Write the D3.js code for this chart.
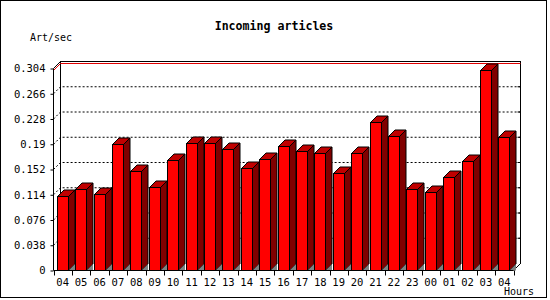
<!DOCTYPE html>
<html><head><meta charset="utf-8">
<script src="https://cdn.jsdelivr.net/npm/d3@7"></script>
<style>
html,body{margin:0;padding:0;background:#fff;}
svg{display:block;}
text{font-family:"DejaVu Sans Mono","Liberation Mono",monospace;}
</style></head>
<body><div id="chart"></div>
<script>
const hours = ["04","05","06","07","08","09","10","11","12","13","14","15","16","17","18","19","20","21","22","23","00","01","02","03","04"];
const values = [0.112,0.123,0.115,0.191,0.150,0.125,0.167,0.192,0.192,0.183,0.155,0.168,0.188,0.180,0.177,0.147,0.177,0.224,0.202,0.123,0.118,0.141,0.165,0.301,0.201];
const yTicks = [0,0.038,0.076,0.114,0.152,0.19,0.228,0.266,0.304];
const yTickLabels = ["0","0.038","0.076","0.114","0.152","0.19","0.228","0.266","0.304"];
const title = "Incoming articles";
const yTitle = "Art/sec";
const xTitle = "Hours";

const W = 550, H = 300;
const D = 7;      // wall depth
const bd = 6.5;   // bar depth
const svg = d3.select("#chart").append("svg").attr("width", W).attr("height", H);

const x = d3.scaleBand().domain(d3.range(hours.length)).range([53.5, 513.5]).padding(0);
const y = d3.scaleLinear().domain([0, 0.304]).range([270.5, 68.5]);
const yMin = y(0), yMax = y(0.304);
const xL = 53.5, xR = 513.5;

// outer border
svg.append("rect").attr("x",0.5).attr("y",0.5).attr("width",546).attr("height",297)
  .attr("fill","#fff").attr("stroke","#000");

// back wall
const g = svg.append("g");
g.append("path").attr("d", `M${xL+D},${yMin-D} L${xL+D},${yMax-D} L${xR+D},${yMax-D} L${xR+D},${yMin-D}`)
  .attr("fill","none").attr("stroke","#000").attr("shape-rendering","crispEdges");

// gridlines
yTicks.filter(t => t > 0 && t < 0.304).forEach(t => {
  const yy = y(t);
  g.append("path").attr("d", `M${xL},${yy} L${xL+D},${yy-D} L${xR+D},${yy-D}`)
    .attr("fill","none").attr("stroke","#000").attr("stroke-dasharray","2,2");
  g.append("line").attr("x1", xR+D-3).attr("x2", xR+D).attr("y1", yy-D).attr("y2", yy-D).attr("stroke","#000");
});

// max line
const vmax = d3.max(values);
g.append("path").attr("d", `M${xL},${Math.round(y(vmax))+0.5} L${xL+D},${Math.round(y(vmax))+0.5-D} L${xR+D},${Math.round(y(vmax))+0.5-D}`)
  .attr("fill","none").attr("stroke","#e00000");

// top-left diagonal and floor right diagonal
g.append("line").attr("x1",xL).attr("y1",yMax).attr("x2",xL+D).attr("y2",yMax-D).attr("stroke","#000");
g.append("line").attr("x1",xR).attr("y1",yMin).attr("x2",xR+D).attr("y2",yMin-D).attr("stroke","#000");

// bars
const bars = g.append("g");
values.forEach((v, i) => {
  const bx = Math.round(x(i) + 3.3) + 0.5;
  const bw = 11;
  const top = Math.round(y(v)) + 0.5;
  const base = yMin;
  const bg = bars.append("g");
  bg.append("path").attr("d", `M${bx+bw},${base} L${bx+bw},${top} L${bx+bw+bd},${top-bd} L${bx+bw+bd},${base-bd} Z`)
    .attr("fill","#800000").attr("stroke","#000");
  bg.append("path").attr("d", `M${bx+bw},${base} L${bx+bw+bd},${base-bd} L${bx+bw+bd},${base} Z`)
    .attr("fill","#808080").attr("stroke","none");
  bg.append("path").attr("d", `M${bx},${top} L${bx+bd},${top-bd} L${bx+bw+bd},${top-bd} L${bx+bw},${top} Z`)
    .attr("fill","#c00000").attr("stroke","#000");
  bg.append("rect").attr("x", bx).attr("y", top).attr("width", bw).attr("height", base-top)
    .attr("fill","#ff0000").attr("stroke","#000");
});

// y axis
const yAxis = d3.axisLeft(y).tickValues(yTicks).tickSize(3).tickPadding(5)
  .tickFormat((d,i) => yTickLabels[i]);
const ya = svg.append("g").attr("transform", `translate(${xL},0)`).call(yAxis);
ya.select(".domain").attr("d", `M0,${yMax}V${yMin}`).attr("stroke","#000");
ya.selectAll("text").attr("font-size","10.5px").attr("fill","#000").attr("font-family","DejaVu Sans Mono");

// x axis: labels at band centers, ticks at band boundaries
const xAxis = d3.axisBottom(x).tickSize(0).tickPadding(8).tickFormat(i => hours[i]);
const xa = svg.append("g").attr("transform", `translate(0,${yMin})`).call(xAxis);
xa.select(".domain").attr("d", `M${xL},0H${xR}`).attr("stroke","#000");
xa.selectAll("text").attr("font-size","10.5px").attr("fill","#000").attr("font-family","DejaVu Sans Mono");
d3.range(hours.length + 1).forEach(i => {
  const xx = (i < hours.length ? x(i) : xR - 0.0);
  svg.append("line").attr("x1", Math.round(xx)+0.5).attr("x2", Math.round(xx)+0.5)
    .attr("y1", yMin).attr("y2", yMin+5).attr("stroke","#000");
});

// titles
svg.append("text").attr("x", 274).attr("y", 30).attr("text-anchor","middle")
  .attr("font-size","11.6px").attr("font-weight","bold").text(title);
svg.append("text").attr("x", 30).attr("y", 41).attr("font-size","10px").text(yTitle);
svg.append("text").attr("x", 504).attr("y", 295).attr("font-size","10px").text(xTitle);
</script></body></html>
